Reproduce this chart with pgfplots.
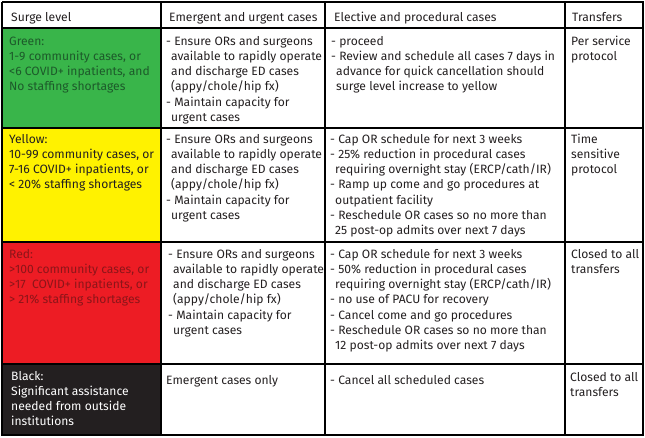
\documentclass[border=0pt]{standalone}
\usepackage{pgfplots}
\pgfplotsset{compat=1.18}
\usepackage{fontspec}
\setmainfont{Fira Sans}
\definecolor{cgreen}{HTML}{39B54A}
\definecolor{cyellow}{HTML}{FFF200}
\definecolor{cred}{HTML}{ED1C24}
\definecolor{cblack}{HTML}{231F20}
\definecolor{txt}{HTML}{231F20}
\definecolor{tgreen}{HTML}{1D5A2A}
\definecolor{tred}{HTML}{8C1519}
\definecolor{grid}{HTML}{3C3C3C}
\newcommand{\ind}{\hspace*{5pt}}
\newcommand{\cellt}[4]{\node[anchor=base west, inner sep=0pt, text=#3] at (axis cs:#1,#2) {\fontsize{12.1}{15.3}\selectfont\begin{tabular}[t]{@{}l@{}}#4\end{tabular}};}
\begin{document}
\begin{tikzpicture}
\begin{axis}[width=645pt, height=437pt, scale only axis,
  xmin=0, xmax=645, ymin=0, ymax=437, y dir=reverse,
  hide axis, clip=false]
% invisible frame
\addplot[draw=none] coordinates {(0,0) (645,437)};
% cell fills
\addplot[fill=cgreen, draw=none] coordinates {(2,28) (161,28) (161,128) (2,128)} -- cycle;
\addplot[fill=cyellow, draw=none] coordinates {(2,128) (161,128) (161,242) (2,242)} -- cycle;
\addplot[fill=cred, draw=none] coordinates {(2,242) (161,242) (161,364) (2,364)} -- cycle;
\addplot[fill=cblack, draw=none] coordinates {(2,364) (161,364) (161,435) (2,435)} -- cycle;
% grid lines
\addplot[grid, line width=1.3pt] coordinates {(2,2) (643,2) (643,435) (2,435) (2,2)};
\addplot[grid, line width=1.1pt] coordinates {(2,28) (643,28)};
\addplot[grid, line width=1.1pt] coordinates {(2,128) (643,128)};
\addplot[grid, line width=1.1pt] coordinates {(2,242) (643,242)};
\addplot[grid, line width=1.1pt] coordinates {(2,364) (643,364)};
\addplot[grid, line width=1.1pt] coordinates {(161,2) (161,435)};
\addplot[grid, line width=1.1pt] coordinates {(325,2) (325,435)};
\addplot[grid, line width=1.1pt] coordinates {(565,2) (565,435)};
% header
\cellt{11}{21}{txt}{Surge level}
\cellt{169}{21}{txt}{Emergent and urgent cases}
\cellt{334}{21}{txt}{Elective and procedural cases}
\cellt{572}{21}{txt}{Transfers}
% green row
\cellt{9}{45}{tgreen}{Green:\\1-9 community cases, or\\<6 COVID+ inpatients, and\\No staffing shortages}
\cellt{166}{45}{txt}{- Ensure ORs and surgeons\\\ind available to rapidly operate\\\ind and discharge ED cases\\\ind (appy/chole/hip fx)\\- Maintain capacity for\\\ind urgent cases}
\cellt{331}{45}{txt}{- proceed\\- Review and schedule all cases 7 days in\\\ind advance for quick cancellation should\\\ind surge level increase to yellow}
\cellt{571}{45}{txt}{Per service\\protocol}
% yellow row
\cellt{9}{143}{txt}{Yellow:\\10-99 community cases, or\\7-16 COVID+ inpatients, or\\< 20\% staffing shortages}
\cellt{166}{143}{txt}{- Ensure ORs and surgeons\\\ind available to rapidly operate\\\ind and discharge ED cases\\\ind (appy/chole/hip fx)\\- Maintain capacity for\\\ind urgent cases}
\cellt{330}{143}{txt}{- Cap OR schedule for next 3 weeks\\- 25\% reduction in procedural cases\\\ind requiring overnight stay (ERCP/cath/IR)\\- Ramp up come and go procedures at\\\ind outpatient facility\\- Reschedule OR cases so no more than\\\ind 25 post-op admits over next 7 days}
\cellt{571}{143}{txt}{Time\\sensitive\\protocol}
% red row
\cellt{9}{258}{tred}{Red:\\>100 community cases, or\\>17~ COVID+ inpatients, or\\> 21\% staffing shortages}
\cellt{168}{258}{txt}{- Ensure ORs and surgeons\\\ind available to rapidly operate\\\ind and discharge ED cases\\\ind (appy/chole/hip fx)\\- Maintain capacity for\\\ind urgent cases}
\cellt{330}{258}{txt}{- Cap OR schedule for next 3 weeks\\- 50\% reduction in procedural cases\\\ind requiring overnight stay (ERCP/cath/IR)\\- no use of PACU for recovery\\- Cancel come and go procedures\\- Reschedule OR cases so no more than\\\ind 12 post-op admits over next 7 days}
\cellt{571}{258}{txt}{Closed to all\\transfers}
% black row
\cellt{11}{380}{white}{Black:\\Significant assistance\\needed from outside\\institutions}
\cellt{166}{384}{txt}{Emergent cases only}
\cellt{330}{384}{txt}{- Cancel all scheduled cases}
\cellt{570}{381}{txt}{Closed to all\\transfers}
\end{axis}
\end{tikzpicture}
\end{document}
